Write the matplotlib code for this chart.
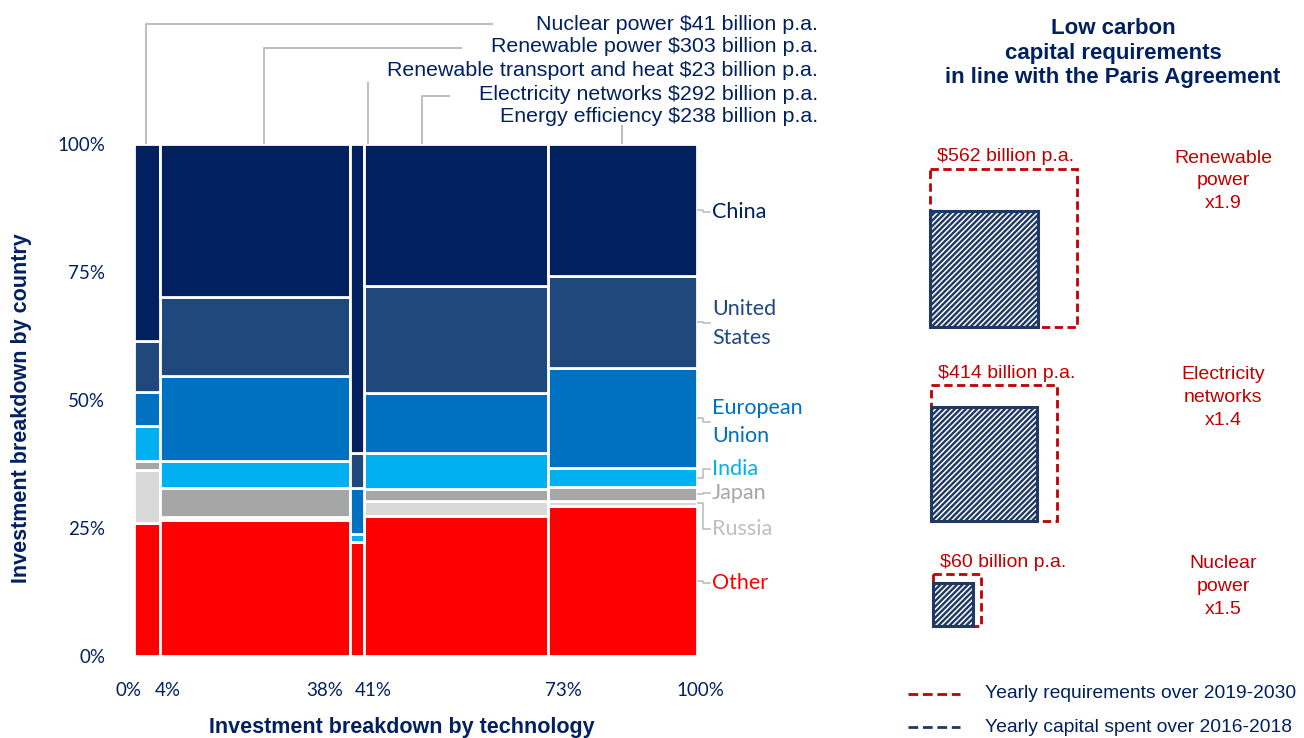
import numpy as np
import matplotlib
matplotlib.use('Agg')
import matplotlib.pyplot as plt
from matplotlib.patches import Rectangle
from matplotlib.transforms import blended_transform_factory

# technologies (left to right) and yearly capital spent 2016-2018, $ billion
techs = ['Nuclear power', 'Renewable power', 'Renewable transport and heat',
         'Electricity networks', 'Energy efficiency']
tech_spend = [41, 303, 23, 292, 238]

# country share of each technology (%), stacked bottom to top
countries = ['Other', 'Russia', 'Japan', 'India', 'European\nUnion', 'United\nStates', 'China']
share_other = [25.9, 26.6, 22.3, 27.4, 29.3]
share_russia = [10.4, 0.5, 0.0, 2.8, 1.0]
share_japan = [1.7, 5.7, 0.0, 2.5, 2.7]
share_india = [6.9, 5.3, 1.5, 7.0, 3.7]
share_eu = [6.7, 16.6, 9.0, 11.7, 19.6]
share_us = [10.0, 15.4, 6.9, 20.8, 17.9]
share_china = [38.4, 29.9, 60.3, 27.8, 25.8]

country_colors = ['#FF0000', '#D9D9D9', '#A6A6A6', '#00B0F0', '#0070C0', '#1F497D', '#002060']
label_colors = ['#FF0000', '#BFBFBF', '#A6A6A6', '#00B0F0', '#0070C0', '#1F497D', '#002060']
label_y = [14.3, 24.8, 31.8, 36.5, 45.7, 65.0, 86.7]   # where the country names sit

xtick_labels = ['0%', '4%', '38%', '41%', '73%', '100%']
xtick_pos = [-0.9, 5.9, 33.8, 42.4, 76.3, 100.5]
ytick_labels = ['0%', '25%', '50%', '75%', '100%']

# right panel: low carbon capital requirements
req_names = ['Renewable\npower', 'Electricity\nnetworks', 'Nuclear\npower']
spent = [303, 292, 41]
required = [562, 414, 60]

NAVY = '#002060'
DARKRED = '#C00000'
GREY = '#BFBFBF'
W, H = 1304, 738

plt.rcParams['font.family'] = ['Liberation Sans', 'DejaVu Sans']
plt.rcParams['hatch.linewidth'] = 1.1

fig = plt.figure(figsize=(W / 100, H / 100), dpi=100)
ax = fig.add_axes([129 / W, 1 - 656 / H, 571 / W, 512 / H])
# overlay in pixel units for the free-floating annotations
ov = fig.add_axes([0, 0, 1, 1])
ov.set_xlim(0, W)
ov.set_ylim(H, 0)
ov.axis('off')

# mosaic
widths = np.array(tech_spend) / sum(tech_spend) * 100
lefts = np.concatenate([[0], np.cumsum(widths)[:-1]])
shares = np.array([share_other, share_russia, share_japan, share_india,
                   share_eu, share_us, share_china])
bottom = np.zeros(len(techs))
for row, col in zip(shares, country_colors):
    ax.bar(lefts, row, width=widths, bottom=bottom, align='edge',
           color=col, edgecolor='white', linewidth=2.0)
    bottom += row

ax.set_xlim(0, 100)
ax.set_ylim(0, 100)
for s in ax.spines.values():
    s.set_visible(False)
ax.set_yticks([0, 25, 50, 75, 100])
ax.set_yticklabels(ytick_labels)
ax.set_xticks(xtick_pos)
ax.set_xticklabels(xtick_labels)
ax.tick_params(length=0, colors=NAVY, labelsize=13.5)
ax.tick_params(axis='y', pad=17)
ax.tick_params(axis='x', pad=19)
for t in ax.get_xticklabels() + ax.get_yticklabels():
    t.set_fontfamily('Lato')
    t.set_color(NAVY)

ax.set_xlabel('Investment breakdown by technology', fontsize=15.5, fontweight='bold', color=NAVY)
ax.xaxis.set_label_coords(0.478, -0.12)
ax.set_ylabel('Investment breakdown by country', fontsize=15.5, fontweight='bold', color=NAVY)
ax.yaxis.set_label_coords(-0.17, 0.485)

# country labels with leader lines, pointing at the last column
last = shares[:, -1]
centers = np.cumsum(last) - last / 2
for name, c, ly, col in zip(countries, centers, label_y, label_colors):
    ax.plot([100.2, 101.1, 101.1, 102.3], [c, c, ly, ly], color=GREY, lw=1.2, clip_on=False)
    ax.text(102.6, ly, name, fontsize=15.5, family='Lato', color=col,
            ha='left', va='center', linespacing=1.55)

# technology labels on top
text_y = [25, 47, 71, 95, 117]
leader_x = [2.1, 23.0, 41.5, 51.2, 86.7]
leader_top = [24, 48, 83, 96, 126]
leader_end = [63.5, 58.0, None, 56.0, None]
mix = blended_transform_factory(ax.transData, ov.transData)
for name, v, ty, lx, lt, le in zip(techs, tech_spend, text_y, leader_x, leader_top, leader_end):
    ov.text(818, ty, f'{name} \\${v} billion p.a.', fontsize=15.4, color=NAVY,
            ha='right', va='center')
    xs, ys = [lx, lx], [143, lt]
    if le is not None:
        xs.append(le)
        ys.append(lt)
    ax.plot(xs, ys, color=GREY, lw=1.5, transform=mix, clip_on=False)

# right panel
ov.text(1113, 53, 'Low carbon\ncapital requirements\nin line with the Paris Agreement',
        fontsize=16, fontweight='bold', color=NAVY, ha='center', va='center', linespacing=1.2)

anchors = [(930, 327), (931, 521), (933, 626)]
kx, ky = 6.2, 6.67
for name, s, r, (x0, y0) in zip(req_names, spent, required, anchors):
    rw, rh = kx * np.sqrt(r), ky * np.sqrt(r)
    sw, sh = kx * np.sqrt(s), ky * np.sqrt(s)
    ov.add_patch(Rectangle((x0, y0 - rh), rw, rh, fill=False, edgecolor=DARKRED,
                           lw=2, linestyle=(0, (3, 1.6))))
    ov.add_patch(Rectangle((x0, y0 - sh), sw, sh, facecolor='#1F3864',
                           edgecolor='white', hatch='//////', lw=0))
    ov.add_patch(Rectangle((x0, y0 - sh), sw, sh, fill=False, edgecolor='#1F3864', lw=2.2))
    ly = y0 - rh - 12
    ov.text(x0 + 7, ly, f'\\${r} billion p.a.', fontsize=14, color=DARKRED,
            ha='left', va='center')
    ov.text(1223, ly + 24, f'{name}\nx{r / s:.1f}', fontsize=14, color=DARKRED,
            ha='center', va='center', linespacing=1.45)

# legend
ov.plot([908, 960], [694, 694], color=DARKRED, lw=2, linestyle=(0, (3.5, 1.7)))
ov.plot([908, 960], [727, 727], color='#1F3864', lw=2, linestyle=(0, (3.5, 1.7)))
ov.text(985, 694, 'Yearly requirements over 2019-2030', fontsize=13.9, color=NAVY,
        ha='left', va='center')
ov.text(985, 728, 'Yearly capital spent over 2016-2018', fontsize=13.9, color=NAVY,
        ha='left', va='center')

fig.savefig('out.png', dpi=100)
